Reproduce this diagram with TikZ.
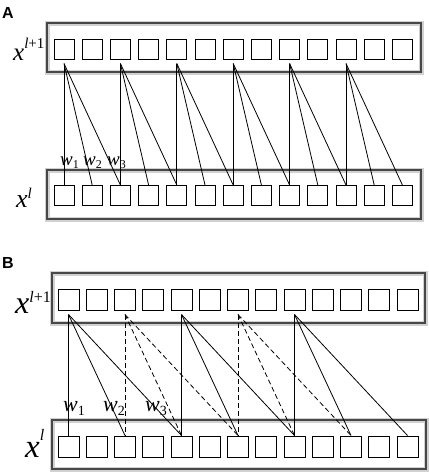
\documentclass[tikz,border=0pt]{standalone}
\usepackage{fontspec}
\setmainfont{Liberation Serif}
\newfontfamily\panelfont{Liberation Sans}
\usetikzlibrary{calc}
\tikzset{
  layer/.style={draw=black!72, line width=1.3pt, inner sep=0pt,
    preaction={draw=black!18, line width=5pt}},
  sq/.style={draw=black, line width=1pt, fill=white, inner sep=0pt, minimum size=20pt},
  sqb/.style={sq, minimum size=21pt},
  conn/.style={line width=0.8pt},
  dconn/.style={line width=0.8pt, dash pattern=on 5pt off 3pt},
  lbl/.style={anchor=base west, inner sep=0pt},
  panel/.style={anchor=base west, inner sep=0pt, font=\panelfont\bfseries\fontsize{16}{16}\selectfont}
}
\newcommand{\supx}[4]{{\fontsize{#1}{#1}\selectfont\textit{x}}\raisebox{#3pt}{\fontsize{#2}{#2}\selectfont #4}}
\newcommand{\wlab}[4]{{\fontsize{#1}{#1}\selectfont\textit{w}}\raisebox{-#3pt}{\fontsize{#2}{#2}\selectfont #4}}
\begin{document}
\begin{tikzpicture}[x=1pt, y=-1pt]
\useasboundingbox (0,0) rectangle (429,475);

% ---------- Panel A ----------
\node[panel] (pA) at (2,18) {A};
\node[layer, minimum width=374pt, minimum height=49pt] (ra1) at (234,47.5) {};
\node[layer, minimum width=374pt, minimum height=49pt] (ra0) at (234,194.5) {};
\foreach \i in {0,...,12} {
  \node[sq] (ta\i) at ({64+28.2*\i},49) {};
  \node[sq] (ba\i) at ({64+28.2*\i},195.5) {};
}
\node[lbl] (xa1) at (13,60) {\supx{25}{15}{12}{\textit{l}+1}};
\node[lbl] (xa0) at (16,207) {\supx{26}{15}{9}{\textit{l}}};
\foreach \s [evaluate=\s as \a using int(\s+1), evaluate=\s as \b using int(\s+2)] in {0,2,...,10} {
  \coordinate (pa\s) at ([yshift=-4pt]ta\s.south);
  \draw[conn] (pa\s) -- (ba\s.north);
  \draw[conn] (pa\s) -- (ba\a.north);
  \draw[conn] (pa\s) -- (ba\b.north);
}
\node[lbl] (wa1) at (60,165) {\wlab{19}{12}{3}{1}};
\node[lbl] (wa2) at (83,165) {\wlab{19}{12}{3}{2}};
\node[lbl] (wa3) at (107,165) {\wlab{19}{12}{3}{3}};

% ---------- Panel B ----------
\node[panel] (pB) at (2,268) {B};
\node[layer, minimum width=373pt, minimum height=50pt] (rb1) at (238.5,298) {};
\node[layer, minimum width=374pt, minimum height=49pt] (rb0) at (239,444.5) {};
\foreach \i in {0,...,12} {
  \node[sqb] (tb\i) at ({68.5+28.25*\i},299.5) {};
  \node[sqb] (bb\i) at ({68.5+28.25*\i},446.5) {};
}
\node[lbl] (xb1) at (15,313) {\supx{32}{16}{11}{\textit{l}+1}};
\node[lbl] (xb0) at (25,457) {\supx{33}{16}{17}{\textit{l}}};
\foreach \s [evaluate=\s as \a using int(\s+2), evaluate=\s as \b using int(\s+4)] in {0,4,8} {
  \coordinate (pb\s) at ([yshift=-4pt]tb\s.south);
  \draw[conn] (pb\s) -- (bb\s.north);
  \draw[conn] (pb\s) -- (bb\a.north);
  \draw[conn] (pb\s) -- (bb\b.north);
}
\foreach \s [evaluate=\s as \a using int(\s+2), evaluate=\s as \b using int(\s+4)] in {2,6} {
  \coordinate (pb\s) at ([yshift=-4pt]tb\s.south);
  \draw[dconn] (pb\s) -- (bb\s.north);
  \draw[dconn] (pb\s) -- (bb\a.north);
  \draw[dconn] (pb\s) -- (bb\b.north);
}
\node[lbl] (wb1) at (63,411) {\wlab{22}{14}{4}{1}};
\node[lbl] (wb2) at (103,411) {\wlab{22}{14}{4}{2}};
\node[lbl] (wb3) at (145,411) {\wlab{22}{14}{4}{3}};
\end{tikzpicture}
\end{document}
